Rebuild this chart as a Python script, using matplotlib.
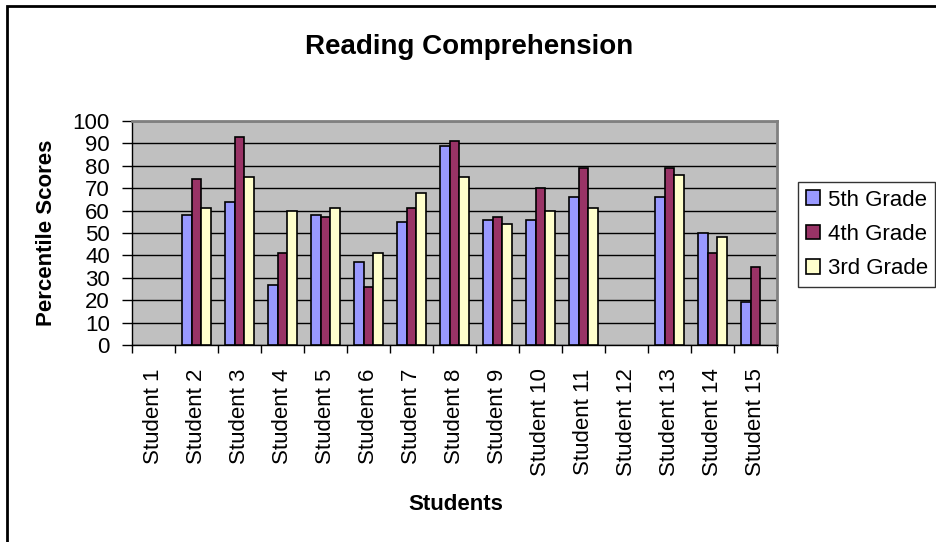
import matplotlib
matplotlib.use("Agg")
import matplotlib.pyplot as plt
import matplotlib.patches as mpatches
import numpy as np

plt.rcParams["font.family"] = ["Liberation Sans", "DejaVu Sans"]

students = [f"Student {i}" for i in range(1, 16)]
grade5 = [np.nan, 58, 64, 27, 58, 37, 55, 89, 56, 56, 66, np.nan, 66, 50, 19]
grade4 = [np.nan, 74, 93, 41, 57, 26, 61, 91, 57, 70, 79, np.nan, 79, 41, 35]
grade3 = [np.nan, 61, 75, 60, 61, 41, 68, 75, 54, 60, 61, np.nan, 76, 48, np.nan]

series = [
    ("5th Grade", grade5, "#9999FF"),
    ("4th Grade", grade4, "#993366"),
    ("3rd Grade", grade3, "#FFFFCC"),
]

W, H = 936, 542
fig = plt.figure(figsize=(W / 100, H / 100), dpi=100)

ax = fig.add_axes([132 / W, 1 - 345 / H, (777 - 132) / W, (345 - 121) / H])
ax.set_facecolor("#C0C0C0")

x = np.arange(len(students))
bw = 0.222
for k, (name, vals, color) in enumerate(series):
    ax.bar(x + (k - 1) * bw, vals, width=bw, color=color, edgecolor="black",
           linewidth=1.2, label=name, zorder=3)

ax.set_xlim(-0.5, len(students) - 0.5)
ax.set_ylim(0, 100)
ax.set_yticks(range(0, 101, 10))
ax.yaxis.grid(True, color="black", linewidth=1.0, zorder=1)
ax.set_axisbelow(True)

ax.set_xticks(x)
ax.set_xticklabels(students, rotation=90, fontsize=16)
ax.set_xticks(np.arange(-0.5, len(students)), minor=True)
ax.tick_params(axis="x", which="major", length=0, pad=17)
ax.tick_params(axis="x", which="minor", length=6, width=1, color="black")
ax.tick_params(axis="y", length=7, width=1, labelsize=16, pad=9)

for side in ["top", "right"]:
    ax.spines[side].set_color("#808080")
    ax.spines[side].set_linewidth(2)
for side in ["left", "bottom"]:
    ax.spines[side].set_color("black")
    ax.spines[side].set_linewidth(1)

fig.text(47 / W, 1 - 233 / H, "Percentile Scores", ha="center", va="center",
         rotation=90, fontsize=16, fontweight="bold")
fig.text(456 / W, 1 - 504 / H, "Students", ha="center", va="center",
         fontsize=16, fontweight="bold")
fig.text(469 / W, 1 - 54 / H, "Reading Comprehension", ha="center", va="baseline",
         fontsize=20, fontweight="bold")

leg = fig.legend(loc="upper left", bbox_to_anchor=(798 / W, 1 - 182 / H),
                 fontsize=16, frameon=True, fancybox=False, edgecolor="black",
                 handlelength=0.63, handleheight=0.63, handletextpad=0.36,
                 labelspacing=0.6, borderpad=0.34, borderaxespad=0)
leg.get_frame().set_linewidth(1)

fig.patches.append(mpatches.Rectangle((7 / W, -0.1), 2, 1 - 6 / H + 0.1,
                                      transform=fig.transFigure, fill=False,
                                      edgecolor="black", linewidth=2))

fig.savefig("out.png", dpi=100)
